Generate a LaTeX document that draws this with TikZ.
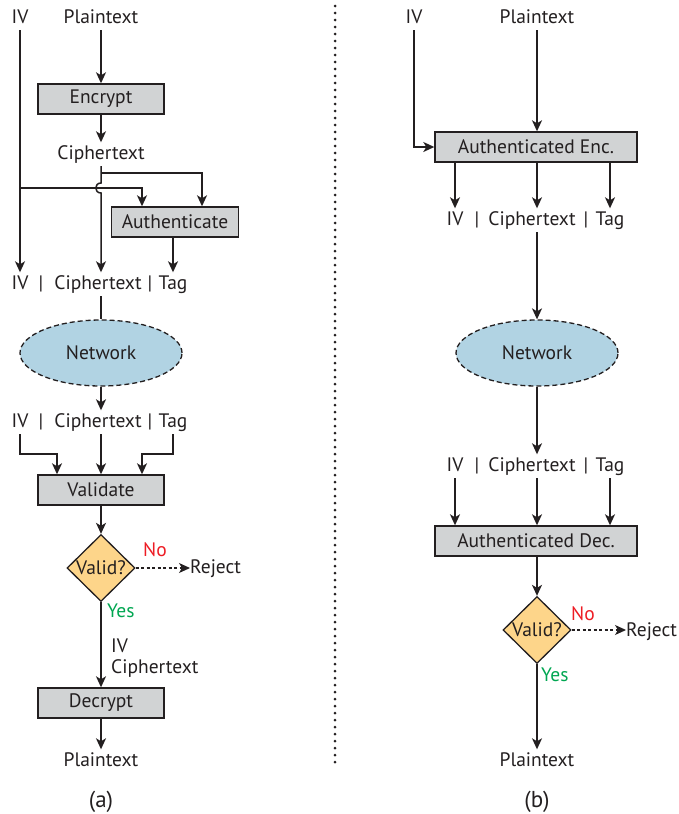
\documentclass[tikz,border=0pt]{standalone}
\usepackage{fontspec}
\setmainfont{PT Sans}
\usetikzlibrary{arrows.meta,shapes.geometric}
\definecolor{ink}{HTML}{231F20}
\definecolor{boxgray}{HTML}{D1D3D4}
\definecolor{netblue}{HTML}{B1D3E3}
\definecolor{validorange}{HTML}{FDD58A}
\definecolor{noRed}{HTML}{ED1C24}
\definecolor{yesGreen}{HTML}{00A651}
\begin{document}
\begin{tikzpicture}[x=1pt,y=-1pt,
  font=\fontsize{19.5}{22}\selectfont,
  lbl/.style={text=ink, inner xsep=2pt, inner ysep=3pt, text height=13.5pt, text depth=4pt, anchor=base},
  caption/.style={text=ink, inner sep=0pt, anchor=base, font=\fontsize{23}{26}\selectfont},
  proc/.style={draw=ink, fill=boxgray, line width=1.4pt, minimum height=30pt, inner sep=0pt, text=ink},
  procA/.style={proc, minimum width=126pt},
  procB/.style={proc, minimum width=202pt},
  net/.style={ellipse, draw=ink, dashed, dash pattern=on 5pt off 3pt, fill=netblue, line width=1.3pt,
    minimum width=162pt, minimum height=66pt, inner sep=0pt, text=ink},
  check/.style={diamond, draw=ink, fill=validorange, line width=1.3pt, minimum width=68pt, minimum height=67pt,
    inner sep=0pt, label={[text=ink, inner sep=0pt]center:Valid?}},
  conn/.style={draw=ink, line width=1.5pt},
  arr/.style={conn, -{Stealth[length=11pt,width=10pt,inset=3pt]}},
  darr/.style={arr, line width=1.2pt, dash pattern=on 3pt off 2.5pt},
  nolbl/.style={text=noRed, inner sep=0pt, anchor=base west},
  yeslbl/.style={text=yesGreen, inner sep=0pt, anchor=base west},
  plain/.style={text=ink, inner sep=0pt, anchor=base west}
]
\useasboundingbox (0,0) rectangle (678,814);

% ---------------- (a) separate encryption and authentication ----------------
\node[lbl] (ivA) at (20,23) {IV};
\node[lbl] (ptA) at (101,23) {Plaintext};
\node[procA] (enc) at (101,99) {Encrypt};
\node[lbl] (ctA) at (101,159) {Ciphertext};
\node[proc, minimum width=127pt] (auth) at (175,222) {Authenticate};

\node[lbl] (r1iv)  at (20,289) {IV};
\node[lbl] (r1s1)  at (41,289) {|};
\node[lbl] (r1ct)  at (98,289) {Ciphertext};
\node[lbl] (r1s2)  at (150,289) {|};
\node[lbl] (r1tag) at (173,289) {Tag};

\node[net] (netA) at (101,353) {Network};

\node[lbl] (r2iv)  at (20,427) {IV};
\node[lbl] (r2s1)  at (41,427) {|};
\node[lbl] (r2ct)  at (98,427) {Ciphertext};
\node[lbl] (r2s2)  at (150,427) {|};
\node[lbl] (r2tag) at (173,427) {Tag};

\node[procA] (val) at (101,490) {Validate};
\node[check] (chkA) at (101,568) {};
\node[plain] (rejA) at (190,573) {Reject};
\node[nolbl] (noA) at (143,556) {No};
\node[yeslbl] (yesA) at (107,617) {Yes};
\node[plain] (dIV) at (111,652) {IV};
\node[plain] (dCT) at (111,673) {Ciphertext};
\node[procA] (dec) at (101,703) {Decrypt};
\node[lbl] (ptA2) at (101,766) {Plaintext};
\node[caption] (capA) at (101,807) {(a)};

% junctions of the upper wiring
\coordinate (ivJ)  at (20,188);
\coordinate (ctJ)  at (101,173);
\coordinate (hopT) at (101,183);
\coordinate (hopB) at (101,193);

\draw[arr] (ptA.south) -- (enc.north);
\draw[arr] (enc.south) -- (ctA.north);
\draw[arr] (ivA.south) -- (r1iv.north);
\draw[arr] (ivJ) -| ([xshift=-33pt]auth.north);
\draw[arr] (ctJ) -| ([xshift=27pt]auth.north);
\draw[arr] (ctA.south) -- (hopT) .. controls (94,183) and (94,193) .. (hopB) -- (ctA.south |- r1ct.north);
\draw[arr] (auth.south -| r1tag.north) -- (r1tag.north);

\draw[conn] (r1ct.south -| netA.north) -- (netA.north);
\draw[arr] (netA.south) -- (netA.south |- r2ct.north);

\coordinate (vL) at (57,454);
\coordinate (vR) at (142,454);
\draw[arr] (r2iv.south) |- (vL) -- (vL |- val.north);
\draw[arr] (r2ct.south -| val.north) -- (val.north);
\draw[arr] (r2tag.south) |- (vR) -- (vR |- val.north);

\draw[arr] (val.south) -- (chkA.north);
\draw[darr] (chkA.east) -- (rejA.west |- chkA.east);
\draw[arr] (chkA.south) -- (dec.north);
\draw[arr] (dec.south) -- (ptA2.north);

% ---------------- divider ----------------
\draw[ink, line width=3pt, line cap=round, dash pattern=on 0pt off 7pt] (335,6) -- (335,764);

% ---------------- (b) authenticated encryption ----------------
\node[lbl] (ivB) at (414,23) {IV};
\node[lbl] (ptB) at (537,23) {Plaintext};
\node[procB] (aenc) at (536,147) {Authenticated Enc.};

\node[lbl] (r3iv)  at (455,225) {IV};
\node[lbl] (r3s1)  at (477,225) {|};
\node[lbl] (r3ct)  at (532,225) {Ciphertext};
\node[lbl] (r3s2)  at (586,225) {|};
\node[lbl] (r3tag) at (610,225) {Tag};

\node[net] (netB) at (537,353) {Network};

\node[lbl] (r4iv)  at (455,471) {IV};
\node[lbl] (r4s1)  at (477,471) {|};
\node[lbl] (r4ct)  at (532,471) {Ciphertext};
\node[lbl] (r4s2)  at (586,471) {|};
\node[lbl] (r4tag) at (610,471) {Tag};

\node[procB] (adec) at (536,541) {Authenticated Dec.};
\node[check] (chkB) at (537,630) {};
\node[plain] (rejB) at (626,636) {Reject};
\node[nolbl] (noB) at (571,620) {No};
\node[yeslbl] (yesB) at (541,681) {Yes};
\node[lbl] (ptB2) at (537,766) {Plaintext};
\node[caption] (capB) at (537,807) {(b)};

\draw[arr] (ivB.south) |- (aenc.west);
\draw[arr] (ptB.south) -- (ptB.south |- aenc.north);
\draw[arr] (aenc.south -| r3iv.north) -- (r3iv.north);
\draw[arr] (aenc.south -| ptB.south) -- (ptB.south |- r3ct.north);
\draw[arr] (aenc.south -| r3tag.north) -- (r3tag.north);

\draw[arr] (ptB.south |- r3ct.south) -- (netB.north);
\draw[arr] (netB.south) -- (netB.south |- r4ct.north);

\draw[arr] (r4iv.south) -- (r4iv.south |- adec.north);
\draw[arr] (ptB.south |- r4ct.south) -- (ptB.south |- adec.north);
\draw[arr] (r4tag.south) -- (r4tag.south |- adec.north);

\draw[arr] (adec.south -| chkB.north) -- (chkB.north);
\draw[darr] (chkB.east) -- (rejB.west |- chkB.east);
\draw[arr] (chkB.south) -- (ptB2.north);
\end{tikzpicture}
\end{document}
